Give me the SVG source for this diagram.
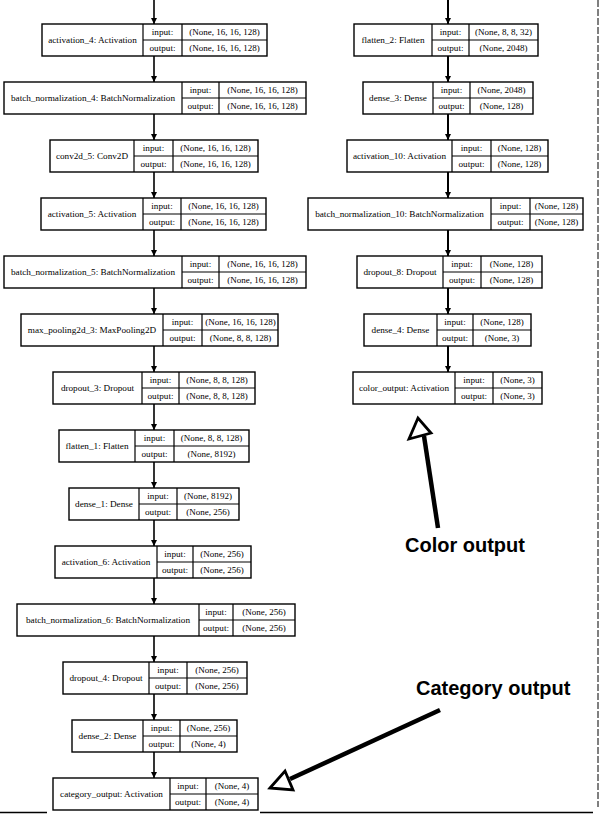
<svg xmlns="http://www.w3.org/2000/svg" width="600" height="814" viewBox="0 0 600 814">
  <style>
    .box { fill: #fff; stroke: #000; stroke-width: 1.4; }
    .div { stroke: #000; stroke-width: 1.2; fill: none; }
    .t { font-family: "Liberation Serif", "Times New Roman", serif; font-size: 9.2px; fill: #000; text-anchor: middle; }
    .v { font-size: 9px; }
    .edge { stroke: #000; stroke-width: 1.6; fill: none; }
    .edgeR { stroke: #000; stroke-width: 2; fill: none; }
    .note { font-family: "Liberation Sans", Arial, sans-serif; font-size: 20px; font-weight: bold; fill: #000; }
    .pointer { stroke: #000; stroke-width: 4.5; fill: none; stroke-linecap: butt; }
    .head { fill: #fff; stroke: #000; stroke-width: 2.8; stroke-linejoin: miter; }
  </style>
  <defs>
    <marker id="arr" markerUnits="userSpaceOnUse" markerWidth="8" markerHeight="8" refX="6" refY="3" orient="auto">
      <path d="M0,0 L6,3 L0,6 z" fill="#000"/>
    </marker>
  </defs>

  <rect width="600" height="814" fill="#fff"/>

  <!-- frame edges -->
  <line x1="598" y1="0" x2="598" y2="807" stroke="#000" stroke-width="1" stroke-dasharray="7 2"/>
  <line x1="0" y1="812.5" x2="47" y2="812.5" stroke="#000" stroke-width="1.5"/>
  <line x1="260" y1="812.5" x2="593" y2="812.5" stroke="#000" stroke-width="1.5"/>

  <!-- connectors -->
  <g id="edges">
    <line class="edge" x1="154" y1="0" x2="154" y2="24" marker-end="url(#arr)"/>
    <line class="edge" x1="154" y1="56" x2="154" y2="82" marker-end="url(#arr)"/>
    <line class="edge" x1="154" y1="114" x2="154" y2="140" marker-end="url(#arr)"/>
    <line class="edge" x1="154" y1="172" x2="154" y2="198" marker-end="url(#arr)"/>
    <line class="edge" x1="154" y1="230" x2="154" y2="256" marker-end="url(#arr)"/>
    <line class="edge" x1="154" y1="288" x2="154" y2="314" marker-end="url(#arr)"/>
    <line class="edge" x1="154" y1="346" x2="154" y2="372" marker-end="url(#arr)"/>
    <line class="edge" x1="154" y1="404" x2="154" y2="430" marker-end="url(#arr)"/>
    <line class="edge" x1="154" y1="462" x2="154" y2="488" marker-end="url(#arr)"/>
    <line class="edge" x1="154" y1="520" x2="154" y2="546" marker-end="url(#arr)"/>
    <line class="edge" x1="154" y1="578" x2="154" y2="604" marker-end="url(#arr)"/>
    <line class="edge" x1="154" y1="636" x2="154" y2="662" marker-end="url(#arr)"/>
    <line class="edge" x1="154" y1="694" x2="154" y2="720" marker-end="url(#arr)"/>
    <line class="edge" x1="154" y1="752" x2="154" y2="778" marker-end="url(#arr)"/>

    <line class="edgeR" x1="448" y1="0" x2="448" y2="24" marker-end="url(#arr)"/>
    <line class="edgeR" x1="448" y1="56" x2="448" y2="82" marker-end="url(#arr)"/>
    <line class="edgeR" x1="448" y1="114" x2="448" y2="140" marker-end="url(#arr)"/>
    <line class="edgeR" x1="448" y1="172" x2="448" y2="198" marker-end="url(#arr)"/>
    <line class="edgeR" x1="448" y1="230" x2="448" y2="256" marker-end="url(#arr)"/>
    <line class="edgeR" x1="448" y1="288" x2="448" y2="314" marker-end="url(#arr)"/>
    <line class="edgeR" x1="448" y1="346" x2="448" y2="372" marker-end="url(#arr)"/>
  </g>

  <!-- left branch -->
  <g id="activation_4">
    <rect class="box" x="42" y="24" width="225" height="32"/>
    <path class="div" d="M143,24 V56 M182,24 V56 M143,40 H267"/>
    <text class="t" x="92.5" y="43.3">activation_4: Activation</text>
    <text class="t" x="162.5" y="35.3">input:</text>
    <text class="t" x="162.5" y="51.3">output:</text>
    <text class="t v" x="224.5" y="35.3">(None, 16, 16, 128)</text>
    <text class="t v" x="224.5" y="51.3">(None, 16, 16, 128)</text>
  </g>
  <g id="batch_normalization_4">
    <rect class="box" x="4" y="82" width="302" height="32"/>
    <path class="div" d="M182,82 V114 M219,82 V114 M182,98 H306"/>
    <text class="t" x="93" y="101.3">batch_normalization_4: BatchNormalization</text>
    <text class="t" x="200.5" y="93.3">input:</text>
    <text class="t" x="200.5" y="109.3">output:</text>
    <text class="t v" x="262.5" y="93.3">(None, 16, 16, 128)</text>
    <text class="t v" x="262.5" y="109.3">(None, 16, 16, 128)</text>
  </g>
  <g id="conv2d_5">
    <rect class="box" x="50" y="140" width="208" height="32"/>
    <path class="div" d="M134,140 V172 M173,140 V172 M134,156 H258"/>
    <text class="t" x="92" y="159.3">conv2d_5: Conv2D</text>
    <text class="t" x="153.5" y="151.3">input:</text>
    <text class="t" x="153.5" y="167.3">output:</text>
    <text class="t v" x="215.5" y="151.3">(None, 16, 16, 128)</text>
    <text class="t v" x="215.5" y="167.3">(None, 16, 16, 128)</text>
  </g>
  <g id="activation_5">
    <rect class="box" x="41" y="198" width="225" height="32"/>
    <path class="div" d="M143,198 V230 M181,198 V230 M143,214 H266"/>
    <text class="t" x="92" y="217.3">activation_5: Activation</text>
    <text class="t" x="162" y="209.3">input:</text>
    <text class="t" x="162" y="225.3">output:</text>
    <text class="t v" x="223.5" y="209.3">(None, 16, 16, 128)</text>
    <text class="t v" x="223.5" y="225.3">(None, 16, 16, 128)</text>
  </g>
  <g id="batch_normalization_5">
    <rect class="box" x="4" y="256" width="302" height="32"/>
    <path class="div" d="M182,256 V288 M219,256 V288 M182,272 H306"/>
    <text class="t" x="93" y="275.3">batch_normalization_5: BatchNormalization</text>
    <text class="t" x="200.5" y="267.3">input:</text>
    <text class="t" x="200.5" y="283.3">output:</text>
    <text class="t v" x="262.5" y="267.3">(None, 16, 16, 128)</text>
    <text class="t v" x="262.5" y="283.3">(None, 16, 16, 128)</text>
  </g>
  <g id="max_pooling2d_3">
    <rect class="box" x="21" y="314" width="257" height="32"/>
    <path class="div" d="M163,314 V346 M202,314 V346 M163,330 H278"/>
    <text class="t" x="92" y="333.3">max_pooling2d_3: MaxPooling2D</text>
    <text class="t" x="182.5" y="325.3">input:</text>
    <text class="t" x="182.5" y="341.3">output:</text>
    <text class="t v" x="240.5" y="325.3">(None, 16, 16, 128)</text>
    <text class="t v" x="240.5" y="341.3">(None, 8, 8, 128)</text>
  </g>
  <g id="dropout_3">
    <rect class="box" x="53" y="372" width="202" height="32"/>
    <path class="div" d="M142,372 V404 M179,372 V404 M142,388 H255"/>
    <text class="t" x="97.5" y="391.3">dropout_3: Dropout</text>
    <text class="t" x="160.5" y="383.3">input:</text>
    <text class="t" x="160.5" y="399.3">output:</text>
    <text class="t v" x="217" y="383.3">(None, 8, 8, 128)</text>
    <text class="t v" x="217" y="399.3">(None, 8, 8, 128)</text>
  </g>
  <g id="flatten_1">
    <rect class="box" x="59" y="430" width="190" height="32"/>
    <path class="div" d="M135,430 V462 M174,430 V462 M135,446 H249"/>
    <text class="t" x="97" y="449.3">flatten_1: Flatten</text>
    <text class="t" x="154.5" y="441.3">input:</text>
    <text class="t" x="154.5" y="457.3">output:</text>
    <text class="t v" x="211.5" y="441.3">(None, 8, 8, 128)</text>
    <text class="t v" x="211.5" y="457.3">(None, 8192)</text>
  </g>
  <g id="dense_1">
    <rect class="box" x="69" y="488" width="170" height="32"/>
    <path class="div" d="M139,488 V520 M177,488 V520 M139,504 H239"/>
    <text class="t" x="104" y="507.3">dense_1: Dense</text>
    <text class="t" x="158" y="499.3">input:</text>
    <text class="t" x="158" y="515.3">output:</text>
    <text class="t v" x="208" y="499.3">(None, 8192)</text>
    <text class="t v" x="208" y="515.3">(None, 256)</text>
  </g>
  <g id="activation_6">
    <rect class="box" x="55" y="546" width="196" height="32"/>
    <path class="div" d="M157,546 V578 M193,546 V578 M157,562 H251"/>
    <text class="t" x="106" y="565.3">activation_6: Activation</text>
    <text class="t" x="175" y="557.3">input:</text>
    <text class="t" x="175" y="573.3">output:</text>
    <text class="t v" x="222" y="557.3">(None, 256)</text>
    <text class="t v" x="222" y="573.3">(None, 256)</text>
  </g>
  <g id="batch_normalization_6">
    <rect class="box" x="17" y="604" width="278" height="32"/>
    <path class="div" d="M199,604 V636 M233,604 V636 M199,620 H295"/>
    <text class="t" x="108" y="623.3">batch_normalization_6: BatchNormalization</text>
    <text class="t" x="216" y="615.3">input:</text>
    <text class="t" x="216" y="631.3">output:</text>
    <text class="t v" x="264" y="615.3">(None, 256)</text>
    <text class="t v" x="264" y="631.3">(None, 256)</text>
  </g>
  <g id="dropout_4">
    <rect class="box" x="63" y="662" width="184" height="32"/>
    <path class="div" d="M149,662 V694 M187,662 V694 M149,678 H247"/>
    <text class="t" x="106" y="681.3">dropout_4: Dropout</text>
    <text class="t" x="168" y="673.3">input:</text>
    <text class="t" x="168" y="689.3">output:</text>
    <text class="t v" x="217" y="673.3">(None, 256)</text>
    <text class="t v" x="217" y="689.3">(None, 256)</text>
  </g>
  <g id="dense_2">
    <rect class="box" x="72" y="720" width="165" height="32"/>
    <path class="div" d="M143,720 V752 M180,720 V752 M143,736 H237"/>
    <text class="t" x="107.5" y="739.3">dense_2: Dense</text>
    <text class="t" x="161.5" y="731.3">input:</text>
    <text class="t" x="161.5" y="747.3">output:</text>
    <text class="t v" x="208.5" y="731.3">(None, 256)</text>
    <text class="t v" x="208.5" y="747.3">(None, 4)</text>
  </g>
  <g id="category_output">
    <rect class="box" x="53" y="778" width="205" height="32"/>
    <path class="div" d="M170,778 V810 M206,778 V810 M170,794 H258"/>
    <text class="t" x="111.5" y="797.3">category_output: Activation</text>
    <text class="t" x="188" y="789.3">input:</text>
    <text class="t" x="188" y="805.3">output:</text>
    <text class="t v" x="232" y="789.3">(None, 4)</text>
    <text class="t v" x="232" y="805.3">(None, 4)</text>
  </g>

  <!-- right branch -->
  <g id="flatten_2">
    <rect class="box" x="354" y="24" width="184" height="32"/>
    <path class="div" d="M432,24 V56 M469,24 V56 M432,40 H538"/>
    <text class="t" x="393" y="43.3">flatten_2: Flatten</text>
    <text class="t" x="450.5" y="35.3">input:</text>
    <text class="t" x="450.5" y="51.3">output:</text>
    <text class="t v" x="503.5" y="35.3">(None, 8, 8, 32)</text>
    <text class="t v" x="503.5" y="51.3">(None, 2048)</text>
  </g>
  <g id="dense_3">
    <rect class="box" x="363" y="82" width="170" height="32"/>
    <path class="div" d="M433,82 V114 M470,82 V114 M433,98 H533"/>
    <text class="t" x="398" y="101.3">dense_3: Dense</text>
    <text class="t" x="451.5" y="93.3">input:</text>
    <text class="t" x="451.5" y="109.3">output:</text>
    <text class="t v" x="501.5" y="93.3">(None, 2048)</text>
    <text class="t v" x="501.5" y="109.3">(None, 128)</text>
  </g>
  <g id="activation_10">
    <rect class="box" x="347" y="140" width="201" height="32"/>
    <path class="div" d="M452,140 V172 M491,140 V172 M452,156 H548"/>
    <text class="t" x="399.5" y="159.3">activation_10: Activation</text>
    <text class="t" x="471.5" y="151.3">input:</text>
    <text class="t" x="471.5" y="167.3">output:</text>
    <text class="t v" x="519.5" y="151.3">(None, 128)</text>
    <text class="t v" x="519.5" y="167.3">(None, 128)</text>
  </g>
  <g id="batch_normalization_10">
    <rect class="box" x="308" y="198" width="275" height="32"/>
    <path class="div" d="M491,198 V230 M530,198 V230 M491,214 H583"/>
    <text class="t" x="399.5" y="217.3">batch_normalization_10: BatchNormalization</text>
    <text class="t" x="510.5" y="209.3">input:</text>
    <text class="t" x="510.5" y="225.3">output:</text>
    <text class="t v" x="556.5" y="209.3">(None, 128)</text>
    <text class="t v" x="556.5" y="225.3">(None, 128)</text>
  </g>
  <g id="dropout_8">
    <rect class="box" x="357" y="256" width="185" height="32"/>
    <path class="div" d="M443,256 V288 M481,256 V288 M443,272 H542"/>
    <text class="t" x="400" y="275.3">dropout_8: Dropout</text>
    <text class="t" x="462" y="267.3">input:</text>
    <text class="t" x="462" y="283.3">output:</text>
    <text class="t v" x="511.5" y="267.3">(None, 128)</text>
    <text class="t v" x="511.5" y="283.3">(None, 128)</text>
  </g>
  <g id="dense_4">
    <rect class="box" x="364" y="314" width="167" height="32"/>
    <path class="div" d="M437,314 V346 M473,314 V346 M437,330 H531"/>
    <text class="t" x="400.5" y="333.3">dense_4: Dense</text>
    <text class="t" x="455" y="325.3">input:</text>
    <text class="t" x="455" y="341.3">output:</text>
    <text class="t v" x="502" y="325.3">(None, 128)</text>
    <text class="t v" x="502" y="341.3">(None, 3)</text>
  </g>
  <g id="color_output">
    <rect class="box" x="353" y="372" width="189" height="32"/>
    <path class="div" d="M455,372 V404 M493,372 V404 M455,388 H542"/>
    <text class="t" x="404" y="391.3">color_output: Activation</text>
    <text class="t" x="474" y="383.3">input:</text>
    <text class="t" x="474" y="399.3">output:</text>
    <text class="t v" x="517.5" y="383.3">(None, 3)</text>
    <text class="t v" x="517.5" y="399.3">(None, 3)</text>
  </g>

  <!-- output callouts -->
  <g id="color_callout">
    <line class="pointer" x1="438" y1="528" x2="424" y2="436"/>
    <polygon class="head" points="418,418 409,439 431,433"/>
    <text class="note" x="405" y="552">Color output</text>
  </g>
  <g id="category_callout">
    <line class="pointer" x1="440" y1="710" x2="290" y2="779"/>
    <polygon class="head" points="270,788 285,771 293,790"/>
    <text class="note" x="416" y="695">Category output</text>
  </g>
</svg>
